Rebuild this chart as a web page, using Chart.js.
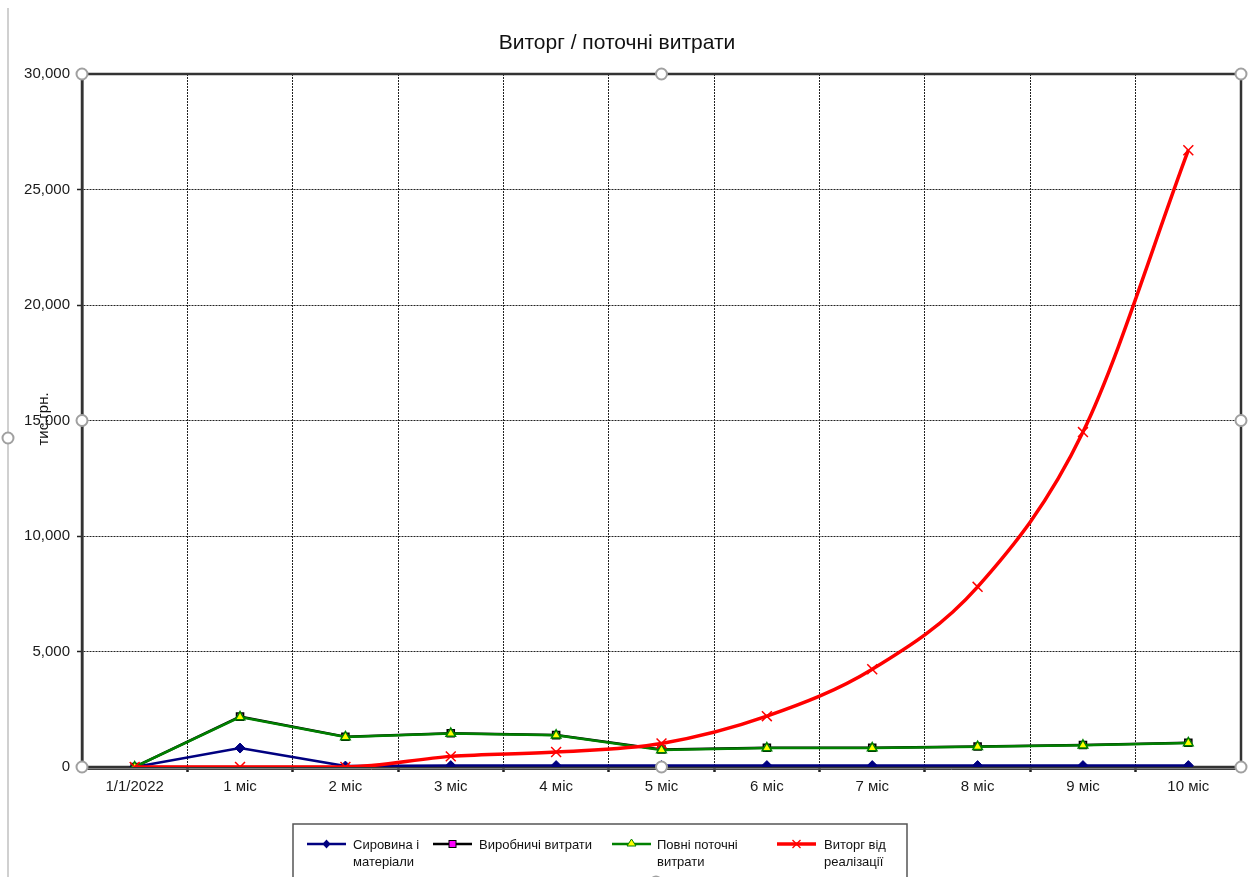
<!DOCTYPE html>
<html>
<head>
<meta charset="utf-8">
<script src="https://cdn.jsdelivr.net/npm/chart.js@4.4.1/dist/chart.umd.min.js"></script>
<style>
  html, body { margin: 0; padding: 0; background: #fff; }
  #wrap { width: 1258px; height: 877px; position: relative; }
</style>
</head>
<body>
<div id="wrap"><canvas id="c" width="1258" height="877"></canvas></div>
<script>
// Categories along the x axis
const categories = ['1/1/2022', '1 міс', '2 міс', '3 міс', '4 міс', '5 міс', '6 міс', '7 міс', '8 міс', '9 міс', '10 міс'];

// Series values, тис. грн.
const rawMaterials = [0, 820, 40, 60, 60, 60, 60, 60, 60, 60, 60];
const productionCosts = [0, 2180, 1310, 1460, 1380, 760, 830, 830, 890, 950, 1050];
const totalCosts = [0, 2160, 1300, 1450, 1370, 740, 820, 820, 880, 940, 1040];
const revenue = [0, 0, 0, 460, 650, 1020, 2200, 4230, 7800, 14500, 26700];

// Y axis ticks
const yTicks = [0, 5000, 10000, 15000, 20000, 25000, 30000];

const chartTitle = 'Виторг / поточні витрати';
const yTitle = 'тис.грн.';
const legendItems = [
  { lines: ['Сировина і', 'матеріали'], color: '#000080', marker: 'diamond' },
  { lines: ['Виробничі витрати'], color: '#000000', marker: 'square' },
  { lines: ['Повні поточні', 'витрати'], color: '#008000', marker: 'triangle' },
  { lines: ['Виторг від', 'реалізації'], color: '#ff0000', marker: 'cross' }
];

const FONT = '"Liberation Sans", Arial, sans-serif';

function handle(ctx, x, y) {
  ctx.save();
  ctx.beginPath();
  ctx.arc(x, y, 5.5, 0, Math.PI * 2);
  ctx.fillStyle = '#fff';
  ctx.fill();
  ctx.lineWidth = 2;
  ctx.strokeStyle = '#a0a0a0';
  ctx.stroke();
  ctx.restore();
}

const decorations = {
  id: 'decorations',
  beforeDatasetsDraw(chart) {
    const ctx = chart.ctx;
    const a = chart.chartArea;
    ctx.save();
    ctx.strokeStyle = '#333';
    ctx.lineWidth = 2.5;
    ctx.strokeRect(a.left, a.top, a.right - a.left, a.bottom - a.top);
    // doubled baseline
    ctx.lineWidth = 1;
    ctx.strokeStyle = '#444';
    ctx.beginPath();
    ctx.moveTo(a.left, a.bottom + 2.5);
    ctx.lineTo(a.right, a.bottom + 2.5);
    ctx.stroke();
    ctx.restore();
  },
  afterDraw(chart) {
    const ctx = chart.ctx;
    const a = chart.chartArea;
    ctx.save();
    // outer frame line
    ctx.strokeStyle = '#c0c0c0';
    ctx.lineWidth = 1.5;
    ctx.beginPath();
    ctx.moveTo(8, 8);
    ctx.lineTo(8, 877);
    ctx.stroke();

    // title
    ctx.fillStyle = '#111';
    ctx.font = '21px ' + FONT;
    ctx.textAlign = 'center';
    ctx.textBaseline = 'middle';
    ctx.fillText(chartTitle, 617, 43);

    // y axis title
    ctx.save();
    ctx.translate(44, 419);
    ctx.rotate(-Math.PI / 2);
    ctx.font = '15px ' + FONT;
    ctx.fillText(yTitle, 0, 0);
    ctx.restore();

    // legend box
    ctx.strokeStyle = '#555';
    ctx.lineWidth = 1.5;
    ctx.strokeRect(293, 824, 614, 70);
    const xs = [307, 433, 612, 777];
    const tx = [353, 479, 657, 824];
    ctx.font = '13px ' + FONT;
    ctx.textAlign = 'left';
    ctx.textBaseline = 'middle';
    legendItems.forEach((it, i) => {
      const x0 = xs[i], y0 = 844;
      ctx.strokeStyle = it.color;
      ctx.lineWidth = it.marker === 'cross' ? 3.5 : 2.5;
      ctx.beginPath();
      ctx.moveTo(x0, y0);
      ctx.lineTo(x0 + 39, y0);
      ctx.stroke();
      const mx = x0 + 19.5;
      if (it.marker === 'diamond') {
        ctx.fillStyle = '#000080';
        ctx.beginPath();
        ctx.moveTo(mx, y0 - 4.5); ctx.lineTo(mx + 4, y0); ctx.lineTo(mx, y0 + 4.5); ctx.lineTo(mx - 4, y0);
        ctx.closePath(); ctx.fill();
      } else if (it.marker === 'square') {
        ctx.fillStyle = '#ff00ff';
        ctx.strokeStyle = '#000';
        ctx.lineWidth = 1;
        ctx.fillRect(mx - 3.5, y0 - 3.5, 7, 7);
        ctx.strokeRect(mx - 3.5, y0 - 3.5, 7, 7);
      } else if (it.marker === 'triangle') {
        ctx.fillStyle = '#ffff00';
        ctx.strokeStyle = '#008000';
        ctx.lineWidth = 1;
        ctx.beginPath();
        ctx.moveTo(mx, y0 - 5); ctx.lineTo(mx + 4.5, y0 + 2); ctx.lineTo(mx - 4.5, y0 + 2);
        ctx.closePath(); ctx.fill(); ctx.stroke();
      } else {
        ctx.strokeStyle = '#ff0000';
        ctx.lineWidth = 1.3;
        ctx.beginPath();
        ctx.moveTo(mx - 4, y0 - 4); ctx.lineTo(mx + 4, y0 + 4);
        ctx.moveTo(mx + 4, y0 - 4); ctx.lineTo(mx - 4, y0 + 4);
        ctx.stroke();
      }
      ctx.fillStyle = '#111';
      it.lines.forEach((ln, k) => ctx.fillText(ln, tx[i], y0 + 1 + k * 17));
    });

    // selection handles
    const cx = (a.left + a.right) / 2, cy = (a.top + a.bottom) / 2;
    [[a.left, a.top], [cx, a.top], [a.right, a.top], [a.left, cy], [a.right, cy],
     [a.left, a.bottom], [cx, a.bottom], [a.right, a.bottom], [8, 438], [656, 882]]
      .forEach(p => handle(ctx, p[0], p[1]));
    ctx.restore();
  }
};

const ctx = document.getElementById('c').getContext('2d');
new Chart(ctx, {
  type: 'line',
  data: {
    labels: categories,
    datasets: [
      {
        label: 'Сировина і матеріали', data: rawMaterials, order: 4,
        borderColor: '#000080', backgroundColor: '#000080', borderWidth: 2.5,
        pointStyle: 'rectRot', pointRadius: 5, pointBorderWidth: 1,
        pointBackgroundColor: '#000080', pointBorderColor: '#000080', tension: 0
      },
      {
        label: 'Виробничі витрати', data: productionCosts, order: 3,
        borderColor: '#000000', backgroundColor: '#ff00ff', borderWidth: 2.5,
        pointStyle: 'rect', pointRadius: 5, pointBorderWidth: 1.5,
        pointBackgroundColor: '#ff00ff', pointBorderColor: '#000000', tension: 0
      },
      {
        label: 'Повні поточні витрати', data: totalCosts, order: 2,
        borderColor: '#008000', backgroundColor: '#ffff00', borderWidth: 2.5,
        pointStyle: 'triangle', pointRadius: 5.5, pointBorderWidth: 1.5,
        pointBackgroundColor: '#ffff00', pointBorderColor: '#008000', tension: 0
      },
      {
        label: 'Виторг від реалізації', data: revenue, order: 1,
        borderColor: '#ff0000', backgroundColor: '#ff0000', borderWidth: 3.5,
        pointStyle: 'crossRot', pointRadius: 7, pointBorderWidth: 1.5,
        pointBorderColor: '#ff0000', cubicInterpolationMode: 'monotone', tension: 0.4
      }
    ]
  },
  options: {
    responsive: false,
    animation: false,
    layout: { padding: { left: 0, right: 17, top: 74, bottom: 0 } },
    plugins: {
      legend: { display: false },
      title: { display: false },
      tooltip: { enabled: false }
    },
    scales: {
      x: {
        offset: true,
        grid: {
          offset: true, color: '#222', lineWidth: 1,
          drawTicks: true, tickLength: 5, tickColor: '#222', tickWidth: 2.5, tickBorderDash: []
        },
        border: { display: true, color: '#333', width: 2.5, dash: [2, 1] },
        ticks: { color: '#1a1a1a', font: { family: FONT, size: 15 }, padding: 6, maxRotation: 0, autoSkip: false },
        afterFit(scale) { scale.height = 110; }
      },
      y: {
        min: 0, max: 30000,
        afterBuildTicks(scale) { scale.ticks = yTicks.map(v => ({ value: v })); },
        grid: {
          color: '#222', lineWidth: 1, drawTicks: true, tickLength: 5, tickColor: '#222', tickWidth: 1.5, tickBorderDash: []
        },
        border: { display: true, color: '#333', width: 2.5, dash: [2, 1] },
        ticks: {
          color: '#1a1a1a', font: { family: FONT, size: 15 }, padding: 7,
          callback: v => v.toLocaleString('en-US')
        },
        afterFit(scale) { scale.width = 82; }
      }
    }
  },
  plugins: [decorations]
});
</script>
</body>
</html>
